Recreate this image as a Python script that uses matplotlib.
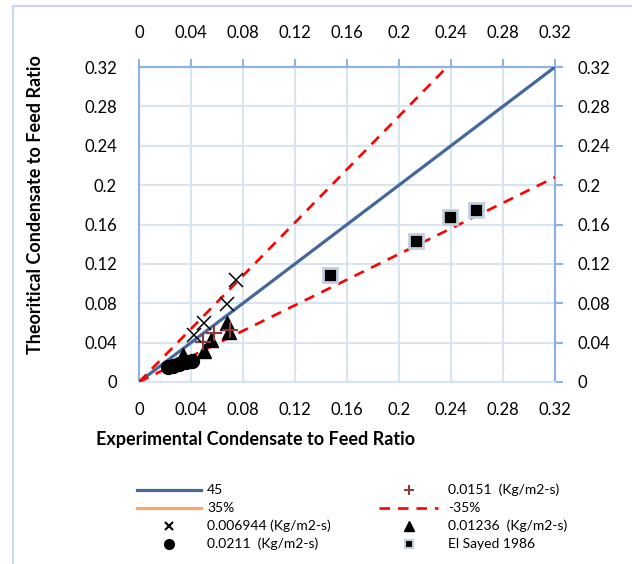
import matplotlib
matplotlib.use('Agg')
import matplotlib.pyplot as plt
from matplotlib.lines import Line2D
from matplotlib.patches import Rectangle

plt.rcParams['font.family'] = ['Lato', 'DejaVu Sans']

## reference lines (end points)
line45_x = [0, 0.32]
line45_y = [0, 0.32]
plus35_x = [0, 0.237]
plus35_y = [0, 0.32]
minus35_x = [0, 0.32]
minus35_y = [0, 0.208]

## data sets
g006944_x = [0.042, 0.050, 0.068, 0.0745]
g006944_y = [0.048, 0.060, 0.079, 0.104]

g0151_x = [0.049, 0.058, 0.070]
g0151_y = [0.041, 0.0495, 0.053]

g01236_x = [0.034, 0.050, 0.055, 0.069, 0.068]
g01236_y = [0.027, 0.031, 0.043, 0.051, 0.060]

g0211_x = [0.022, 0.026, 0.031, 0.036, 0.041]
g0211_y = [0.015, 0.016, 0.018, 0.020, 0.021]

elsayed_x = [0.147, 0.213, 0.239, 0.259]
elsayed_y = [0.109, 0.143, 0.168, 0.175]

ticks = [0, 0.04, 0.08, 0.12, 0.16, 0.2, 0.24, 0.28, 0.32]
ticklabels = ['%g' % t for t in ticks]

legend_col1 = ['45', '35%', '0.006944 (Kg/m2-s)', '0.0211  (Kg/m2-s)']
legend_col2 = ['0.0151  (Kg/m2-s)', '-35%', '0.01236  (Kg/m2-s)', 'El Sayed 1986']

W, H = 632, 564
fig = plt.figure(figsize=(W / 100, H / 100), dpi=100)
ax = fig.add_axes([139 / W, 1 - 382 / H, 416 / W, 315 / H])

# border of the chart area
fig.patches.append(Rectangle((13 / W, -0.05), 1.2, 1 - 6 / H + 0.05, transform=fig.transFigure,
                             fill=False, edgecolor='#c6d9f1', linewidth=1.5))

gridc = '#d9e4f1'
spinec = '#8db3e2'
blue = '#44689c'
red = '#ff0000'
maroon = '#8b3a3a'
sqedge = '#c3cfdf'
dash = (0, (4, 3))

ax.set_xlim(0, 0.32)
ax.set_ylim(0, 0.32)
ax.set_xticks(ticks)
ax.set_yticks(ticks)
ax.set_xticklabels(ticklabels)
ax.set_yticklabels(ticklabels)
ax.grid(True, color=gridc, linewidth=1.5)
ax.set_axisbelow(True)
ax.tick_params(axis='both', length=0, labelsize=12)
ax.tick_params(axis='x', pad=14.5)
ax.tick_params(axis='y', pad=16)
for s in ['left', 'top', 'right']:
    ax.spines[s].set_color(spinec)
    ax.spines[s].set_linewidth(1.5)
ax.spines['bottom'].set_color(gridc)
ax.spines['bottom'].set_linewidth(1.5)

sx = ax.secondary_xaxis('top')
sx.set_xticks(ticks)
sx.set_xticklabels(ticklabels)
sx.tick_params(length=6, width=1.5, color=spinec, labelsize=12, pad=13)
sx.spines['top'].set_color(spinec)
sx.spines['top'].set_linewidth(1.5)

sy = ax.secondary_yaxis('right')
sy.set_yticks(ticks)
sy.set_yticklabels(ticklabels)
sy.tick_params(length=6, width=1.5, color=spinec, labelsize=12, pad=10)
sy.spines['right'].set_color(spinec)
sy.spines['right'].set_linewidth(1.5)

ax.plot(line45_x, line45_y, color=blue, linewidth=2.3, zorder=3)
ax.plot(plus35_x, plus35_y, color=red, linewidth=1.9, linestyle=dash, zorder=3)
ax.plot(minus35_x, minus35_y, color=red, linewidth=1.9, linestyle=dash, zorder=3)

ax.plot(g0211_x, g0211_y, 'o', color='black', markersize=10, zorder=4)
ax.plot(g01236_x, g01236_y, '^', color='black', markersize=10.5, zorder=4)
ax.plot(g0151_x, g0151_y, '+', color=maroon, markersize=11, mew=1.5, zorder=4)
ax.plot(g006944_x, g006944_y, 'x', color='black', markersize=10, mew=1.1, zorder=4)
ax.plot(elsayed_x, elsayed_y, 's', markerfacecolor='black', markeredgecolor=sqedge,
        markersize=9.5, mew=2, zorder=4)

fig.text(36 / W, 1 - 205 / H, 'Theoritical Condensate to Feed Ratio', fontsize=13,
         fontweight='bold', ha='center', va='center', rotation=90)
fig.text(256 / W, 1 - 439 / H, 'Experimental Condensate to Feed Ratio', fontsize=13,
         fontweight='bold', ha='center', va='center')

# legend drawn by hand: two columns, four rows
rows = [490, 508, 526, 544]
styles1 = [dict(color=blue, linewidth=2.3),
           dict(color='#f9a86a', linewidth=2.3),
           dict(marker='x', color='black', linestyle='none', markersize=6, mew=1.5),
           dict(marker='o', color='black', linestyle='none', markersize=7)]
styles2 = [dict(marker='+', color=maroon, linestyle='none', markersize=7, mew=1.5),
           dict(color=red, linewidth=1.9, linestyle=dash),
           dict(marker='^', color='black', linestyle='none', markersize=7),
           dict(marker='s', markerfacecolor='black', markeredgecolor=sqedge,
                linestyle='none', markersize=6, mew=1.5)]

for labels, styles, x0, x1, xt in [(legend_col1, styles1, 137, 201, 207),
                                   (legend_col2, styles2, 379, 438, 448)]:
    for lab, st, yy in zip(labels, styles, rows):
        yf = 1 - yy / H
        if st.get('linestyle') == 'none':
            xs = [(x0 + x1) / 2 / W]
            ys = [yf]
        else:
            xs = [x0 / W, x1 / W]
            ys = [yf, yf]
        fig.add_artist(Line2D(xs, ys, transform=fig.transFigure, **st))
        fig.text(xt / W, yf, lab, fontsize=10, ha='left', va='center')

plt.savefig('out.png', dpi=100)
